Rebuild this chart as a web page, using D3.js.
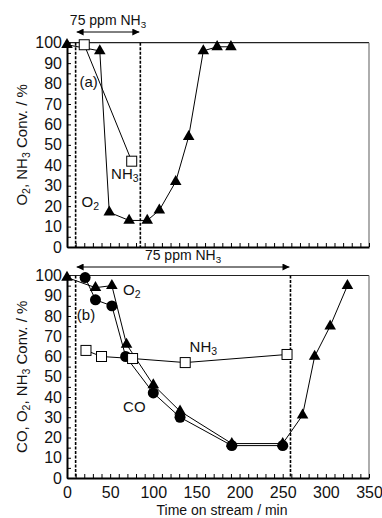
<!DOCTYPE html>
<html>
<head>
<meta charset="utf-8">
<script src="https://cdn.jsdelivr.net/npm/d3@7"></script>
<style>
  body { margin: 0; background: #fff; }
  svg { display: block; font-family: "Liberation Sans", Arial, sans-serif; }
</style>
</head>
<body>
<div id="chart"></div>
<script>
// ---- data ----
const timeTicks = [0, 50, 100, 150, 200, 250, 300, 350];
const convTicks = [0, 10, 20, 30, 40, 50, 60, 70, 80, 90, 100];

// (a) panel
const aO2Time = [0, 38, 49, 72, 93, 107, 126, 141, 158, 174, 190];
const aO2Conv = [99, 96, 17, 13, 13, 18, 32, 54, 96, 98, 98];
const aNH3Time = [20, 75];
const aNH3Conv = [99, 42];
const aFeed = [10, 85]; // NH3 on / off (min)

// (b) panel
const bO2Time = [0, 33, 52, 69, 100, 131, 191, 250, 273, 287, 305, 325];
const bO2Conv = [99, 94, 95, 66, 46, 33, 17, 17, 31, 60, 75, 95];
const bCOTime = [21, 33, 52, 68, 100, 131, 191, 250];
const bCOConv = [99, 88, 85, 60, 42, 30, 16, 16];
const bNH3Time = [22, 40, 76, 137, 255];
const bNH3Conv = [63, 60, 59, 57, 61];
const bFeed = [10, 259];

const W = 382, H = 518;
const svg = d3.select('#chart').append('svg').attr('width', W).attr('height', H);

const defs = svg.append('defs');
['arrow-end', 'arrow-start'].forEach((id, i) => {
    defs.append('marker')
        .attr('id', id)
        .attr('viewBox', '0 0 10 10')
        .attr('refX', i === 0 ? 10 : 0)
        .attr('refY', 5)
        .attr('markerWidth', 7)
        .attr('markerHeight', 7)
        .attr('markerUnits', 'userSpaceOnUse')
        .attr('orient', 'auto')
        .append('path')
        .attr('d', i === 0 ? 'M0,0 L10,5 L0,10 Z' : 'M10,0 L0,5 L10,10 Z')
        .attr('fill', '#000');
});

const x = d3.scaleLinear().domain([0, 350]).range([67, 369]);

// write text with subscripts: parts = [[text, isSub], ...]
function richText(sel, parts) {
    parts.forEach(([t, sub]) => {
        sel.append('tspan')
            .attr('font-size', sub ? '70%' : null)
            .attr('baseline-shift', sub ? '-25%' : null)
            .text(t);
    });
    return sel;
}

function panel(cfg) {
    const y = d3.scaleLinear().domain([0, 100]).range([cfg.bottom, cfg.top]);
    const g = svg.append('g');

    // frame top / right
    g.append('line').attr('x1', x(0)).attr('x2', x(350)).attr('y1', y(100)).attr('y2', y(100))
        .attr('stroke', '#222').attr('stroke-width', 1.2);
    g.append('line').attr('x1', x(350)).attr('x2', x(350)).attr('y1', y(100)).attr('y2', y(0))
        .attr('stroke', '#777').attr('stroke-width', 1.2);

    // axes
    const yAxis = d3.axisLeft(y)
        .tickValues(d3.range(0, 101, 5))
        .tickFormat(d => (convTicks.includes(d) ? d : ''))
        .tickSizeInner(-4).tickSizeOuter(0).tickPadding(5);
    const ya = g.append('g').attr('transform', `translate(${x(0)},0)`).call(yAxis);

    const xAxis = d3.axisBottom(x)
        .tickValues(d3.range(0, 351, 10))
        .tickFormat(d => (cfg.xLabels && timeTicks.includes(d) ? d : ''))
        .tickSizeInner(-4).tickSizeOuter(0).tickPadding(9);
    const xa = g.append('g').attr('transform', `translate(0,${y(0)})`).call(xAxis);

    [ya, xa].forEach(a => {
        a.select('.domain').attr('stroke', '#000').attr('stroke-width', 2);
        a.selectAll('.tick line').attr('stroke', '#000').attr('stroke-width', 1);
        a.selectAll('.tick text').attr('font-size', 16).attr('fill', '#111')
            .attr('font-family', '"Liberation Sans", Arial, sans-serif');
    });

    // NH3 feed window
    cfg.feed.forEach(t => {
        g.append('line').attr('x1', x(t)).attr('x2', x(t)).attr('y1', y(100)).attr('y2', y(0))
            .attr('stroke', '#000').attr('stroke-width', 1.6).attr('stroke-dasharray', '3,1.5');
    });
    g.append('line')
        .attr('x1', x(cfg.feed[0]) + 1).attr('x2', x(cfg.feed[1]) - 1)
        .attr('y1', cfg.arrowY).attr('y2', cfg.arrowY)
        .attr('stroke', '#000').attr('stroke-width', 1)
        .attr('marker-start', 'url(#arrow-start)')
        .attr('marker-end', 'url(#arrow-end)');
    richText(g.append('text')
        .attr('x', (x(cfg.feed[0]) + x(cfg.feed[1])) / 2)
        .attr('y', cfg.arrowY - 7)
        .attr('text-anchor', 'middle').attr('font-size', 14).attr('fill', '#111'),
        [['75 ppm NH', false], ['3', true]]);

    // series
    const line = d3.line().x(d => x(d[0])).y(d => y(d[1]));
    cfg.series.forEach(s => {
        const pts = d3.zip(s.t, s.v);
        g.append('path').datum(pts).attr('d', line)
            .attr('fill', 'none').attr('stroke', '#000').attr('stroke-width', 1);
    });
    cfg.series.forEach(s => {
        const pts = d3.zip(s.t, s.v);
        const m = g.append('g').selectAll('g').data(pts).join('g')
            .attr('transform', d => `translate(${x(d[0])},${y(d[1])})`);
        if (s.mark === 'square') {
            m.append('rect').attr('x', -5).attr('y', -5).attr('width', 10).attr('height', 10)
                .attr('fill', '#fff').attr('stroke', '#000').attr('stroke-width', 1);
        } else {
            const sym = s.mark === 'triangle' ? d3.symbolTriangle : d3.symbolCircle;
            m.append('path').attr('d', d3.symbol(sym, s.mark === 'triangle' ? 58 : 95)())
                .attr('fill', '#000');
        }
    });

    // labels
    cfg.labels.forEach(l => {
        richText(g.append('text')
            .attr('x', x(l.t)).attr('y', y(l.v)).attr('dy', '0.35em')
            .attr('text-anchor', 'middle').attr('font-size', 15).attr('fill', '#111'), l.parts);
    });

    // y title
    richText(g.append('text')
        .attr('transform', `translate(27,${(y(0) + y(100)) / 2}) rotate(-90)`)
        .attr('text-anchor', 'middle').attr('font-size', 15).attr('fill', '#111'),
        cfg.yTitle);
    return y;
}

panel({
    top: 42.7, bottom: 247, xLabels: false,
    feed: aFeed, arrowY: 32,
    series: [
        { t: aO2Time, v: aO2Conv, mark: 'triangle' },
        { t: aNH3Time, v: aNH3Conv, mark: 'square' }
    ],
    labels: [
        { t: 25, v: 81, parts: [['(a)', false]] },
        { t: 67, v: 36, parts: [['NH', false], ['3', true]] },
        { t: 27, v: 22, parts: [['O', false], ['2', true]] }
    ],
    yTitle: [['O', false], ['2', true], [', NH', false], ['3', true], [' Conv. / %', false]]
});

panel({
    top: 275.5, bottom: 478, xLabels: true,
    feed: bFeed, arrowY: 267,
    series: [
        { t: bO2Time, v: bO2Conv, mark: 'triangle' },
        { t: bCOTime, v: bCOConv, mark: 'circle' },
        { t: bNH3Time, v: bNH3Conv, mark: 'square' }
    ],
    labels: [
        { t: 22, v: 80.5, parts: [['(b)', false]] },
        { t: 75, v: 93, parts: [['O', false], ['2', true]] },
        { t: 158, v: 65, parts: [['NH', false], ['3', true]] },
        { t: 78, v: 35, parts: [['CO', false]] }
    ],
    yTitle: [['CO, O', false], ['2', true], [', NH', false], ['3', true], [' Conv. / %', false]]
});

// x title
svg.append('text')
    .attr('x', 222).attr('y', 515)
    .attr('text-anchor', 'middle').attr('font-size', 14).attr('fill', '#111')
    .text('Time on stream / min');
</script>
</body>
</html>
